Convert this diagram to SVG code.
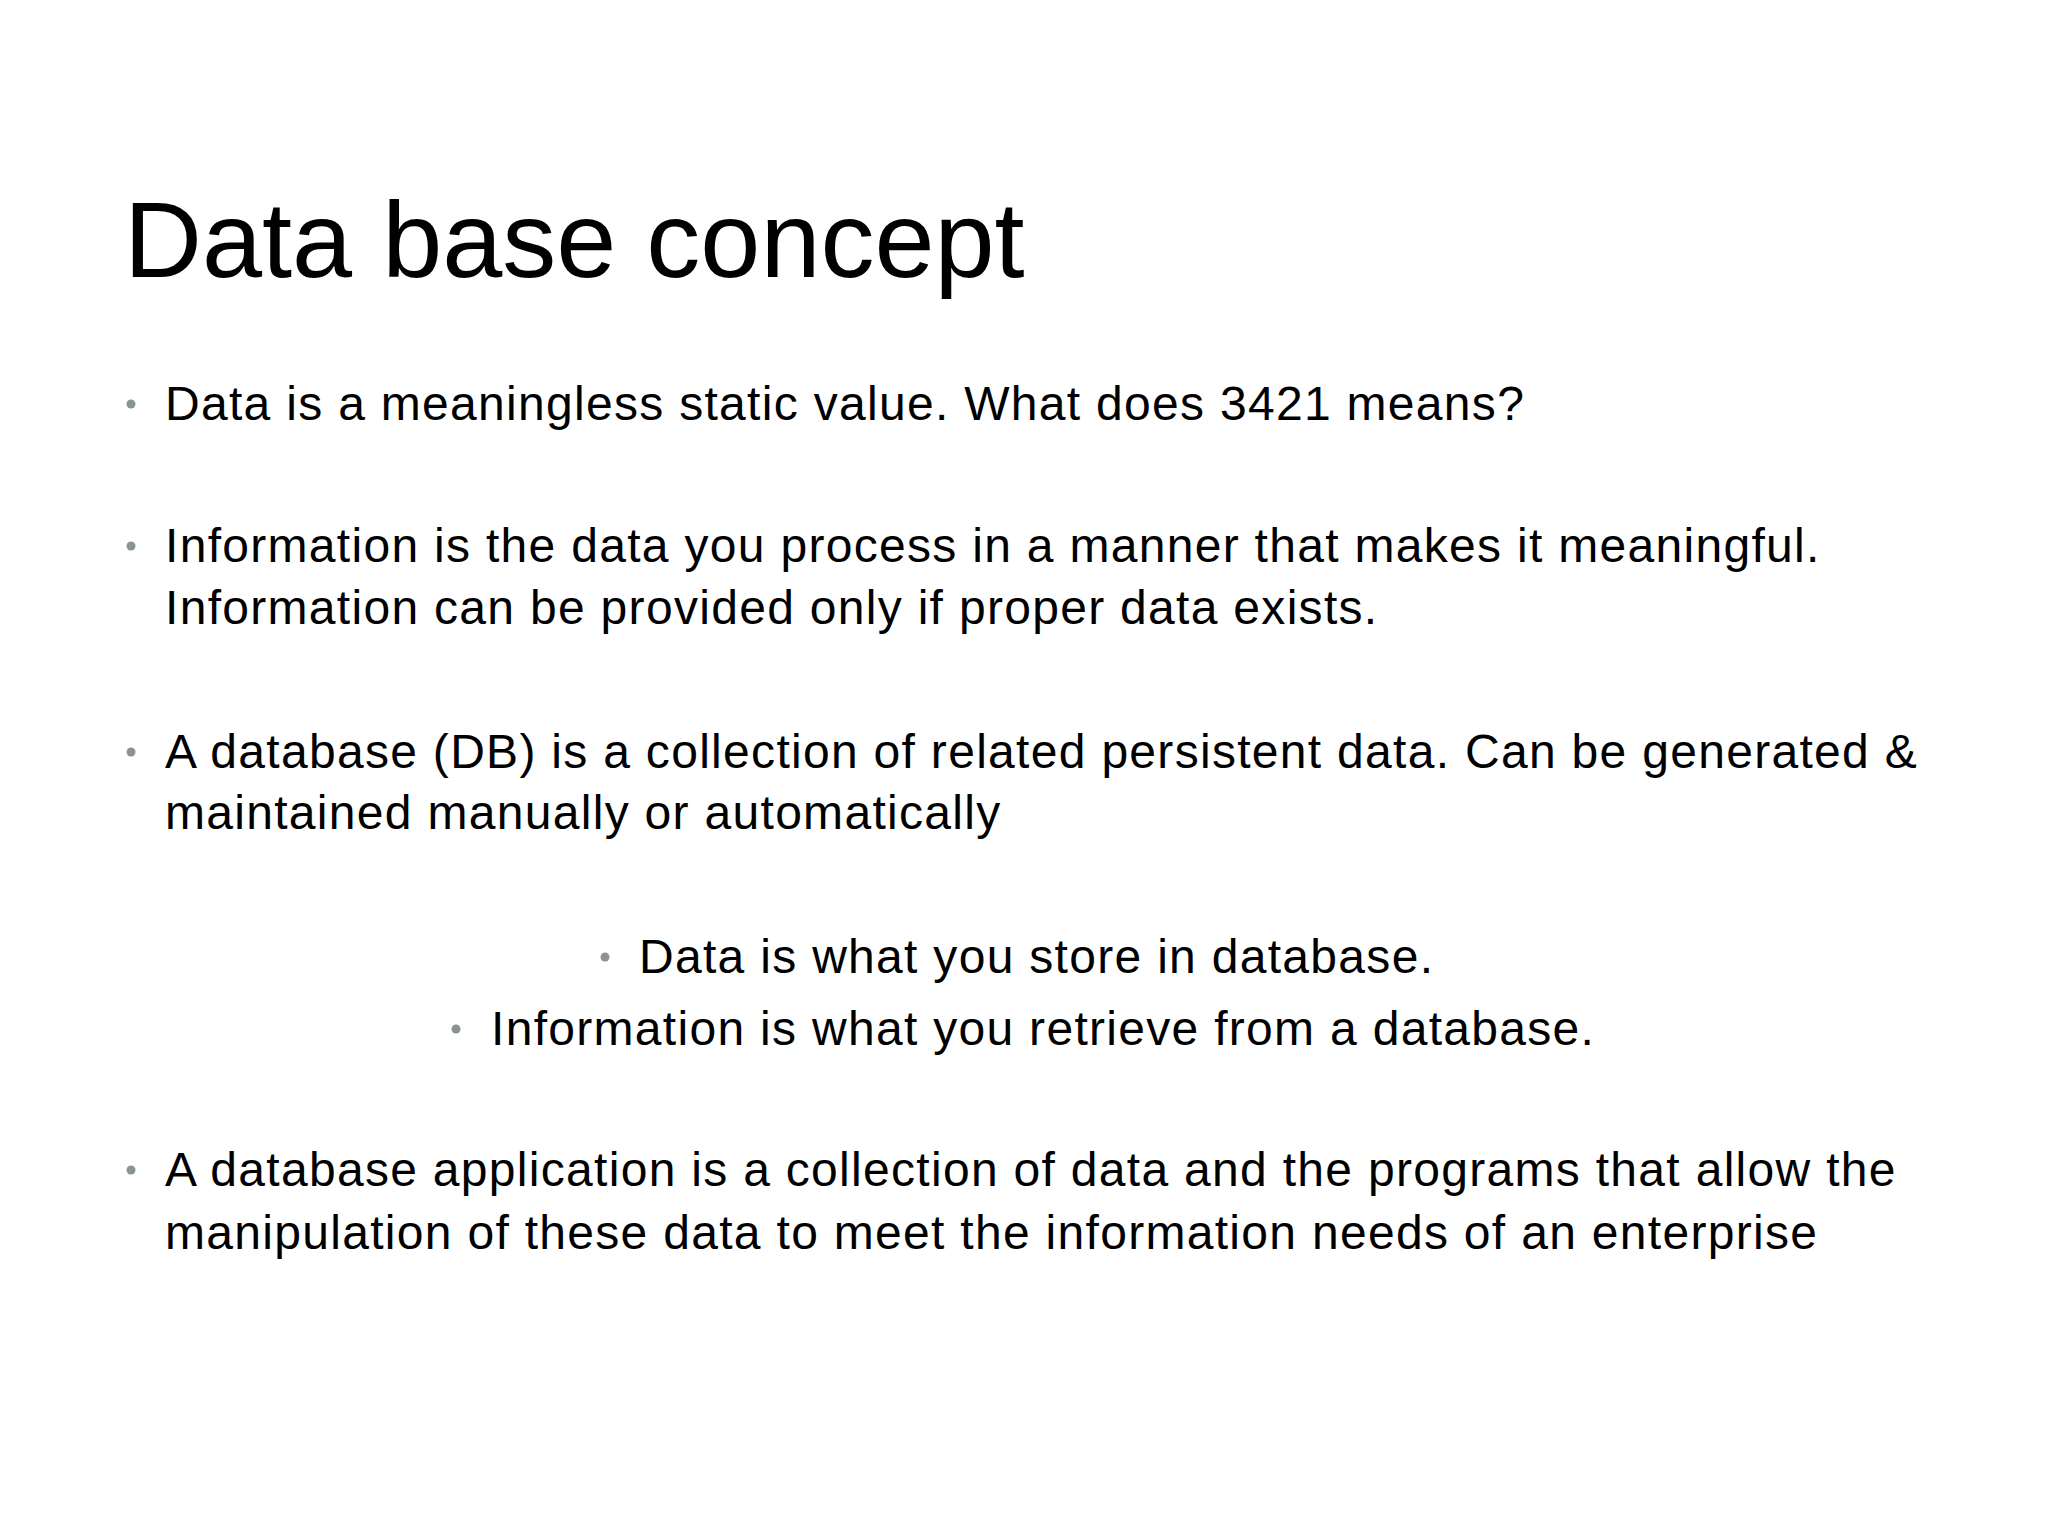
<svg xmlns="http://www.w3.org/2000/svg" width="2048" height="1536" viewBox="0 0 2048 1536">
<style>
text{font-family:"Liberation Sans",Arial,sans-serif;fill:#000}
.b{font-size:48px;letter-spacing:1.3px}
.d{fill:#8a9490}
</style>
<rect width="2048" height="1536" fill="#fff"/>
<g id="title"><text x="124" y="277" font-size="108">Data base concept</text></g>
<g id="bullets">
<circle class="d" cx="131" cy="404" r="4.5"/>
<text class="b" x="165" y="420">Data is a meaningless static value. What does 3421 means?</text>
<circle class="d" cx="131" cy="546" r="4.5"/>
<text class="b" x="165" y="562">Information is the data you process in a manner that makes it meaningful.</text>
<text class="b" x="165" y="624">Information can be provided only if proper data exists.</text>
<circle class="d" cx="131" cy="752" r="4.5"/>
<text class="b" x="165" y="768">A database (DB) is a collection of related persistent data. Can be generated &amp;</text>
<text class="b" x="165" y="829">maintained manually or automatically</text>
<circle class="d" cx="605" cy="957" r="4.5"/>
<text class="b" x="639" y="973">Data is what you store in database.</text>
<circle class="d" cx="456" cy="1029" r="4.5"/>
<text class="b" x="491" y="1045">Information is what you retrieve from a database.</text>
<circle class="d" cx="131" cy="1170" r="4.5"/>
<text class="b" x="165" y="1186">A database application is a collection of data and the programs that allow the</text>
<text class="b" x="165" y="1249">manipulation of these data to meet the information needs of an enterprise</text>
</g>
</svg>
